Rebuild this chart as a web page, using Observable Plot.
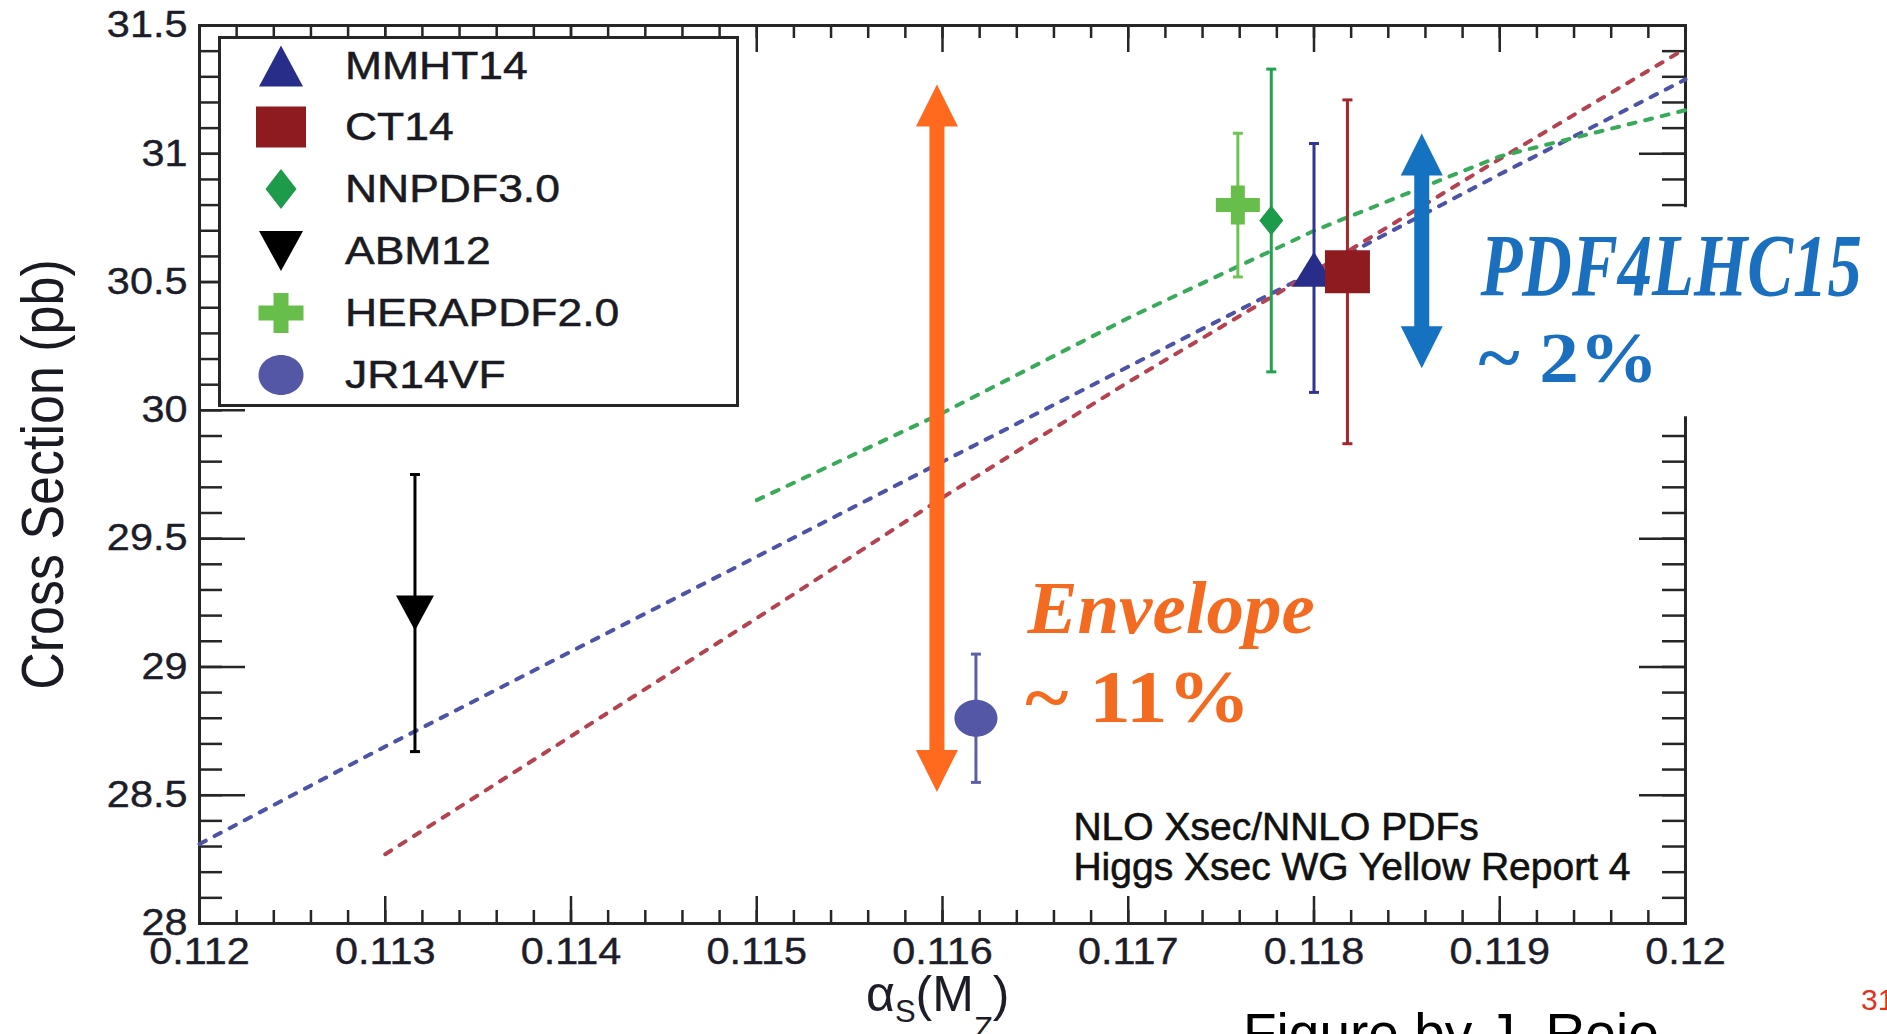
<!DOCTYPE html>
<html>
<head>
<meta charset="utf-8">
<script src="https://cdn.jsdelivr.net/npm/d3@7"></script>
<script src="https://cdn.jsdelivr.net/npm/@observablehq/plot@0.6"></script>
<style>
  html, body { margin: 0; padding: 0; background: #fff; overflow: hidden; }
  #wrap { position: relative; width: 1887px; height: 1034px; overflow: hidden; background: #fff; }
  #wrap > svg { position: absolute; left: 0; top: 0; }
  .legend { position: absolute; left: 218px; top: 36px; width: 521px; height: 371px; box-sizing: border-box;
            border: 3px solid #262626; background: #fff; }
  .legend .sym { position: absolute; width: 60px; height: 50px; }
  .legend .lab { position: absolute; font-family: "Liberation Sans", Arial, sans-serif; font-size: 39px; line-height: 44px;
                 color: #1a1a22; white-space: nowrap; transform: scaleX(1.14); transform-origin: 0 50%;
                 -webkit-text-stroke: 0.5px #1a1a22; }
  .xtitle { position: absolute; left: 866px; top: 969px; font-family: "Liberation Sans", Arial, sans-serif; font-size: 50px;
            line-height: 50px; color: #1d1d28; white-space: nowrap; }
  .xtitle sub { font-size: 0.62em; line-height: 0; }
  .credit { position: absolute; left: 1243px; top: 1006px; font-family: "Liberation Sans", Arial, sans-serif; font-size: 55px;
            line-height: 55px; color: #000; white-space: nowrap; }
  .slideno { position: absolute; left: 1861px; top: 985px; font-family: "Liberation Sans", Arial, sans-serif; font-size: 30px;
             line-height: 30px; color: #e2311d; white-space: nowrap; }
</style>
</head>
<body>
<div id="wrap"></div>
<script>
// ---------------- data ----------------
const pdfSets  = ["MMHT14", "CT14", "NNPDF3.0", "ABM12", "HERAPDF2.0", "JR14VF"];
const alphaS   = [0.11800, 0.11818, 0.11777, 0.11316, 0.11759, 0.11618];
const xsec     = [30.55, 30.54, 30.74, 29.21, 30.80, 28.80];
const xsecLow  = [30.07, 29.87, 30.15, 28.67, 30.52, 28.55];
const xsecHigh = [31.04, 31.21, 31.33, 29.75, 31.08, 29.05];

// dashed alpha_s dependence curves
const mmhtCurveAlpha  = [0.112, 0.113, 0.114, 0.115, 0.116, 0.117, 0.118, 0.119, 0.120];
const mmhtCurveXsec   = [28.31, 28.69, 29.06, 29.43, 29.80, 30.17, 30.54, 30.92, 31.29];
const ct14CurveAlpha  = [0.113, 0.114, 0.115, 0.116, 0.117, 0.118, 0.119, 0.120];
const ct14CurveXsec   = [28.27, 28.73, 29.19, 29.66, 30.11, 30.54, 30.98, 31.41];
const nnpdfCurveAlpha = [0.115, 0.116, 0.117, 0.118, 0.119, 0.120];
const nnpdfCurveXsec  = [29.65, 29.99, 30.36, 30.70, 30.99, 31.17];

// axes
const xTickValues = [0.112, 0.113, 0.114, 0.115, 0.116, 0.117, 0.118, 0.119, 0.120];
const xTickLabels = ["0.112", "0.113", "0.114", "0.115", "0.116", "0.117", "0.118", "0.119", "0.12"];
const yTickValues = [28, 28.5, 29, 29.5, 30, 30.5, 31, 31.5];
const yTickLabels = ["28", "28.5", "29", "29.5", "30", "30.5", "31", "31.5"];
const yTitle = "Cross Section (pb)";

// annotation arrows (alpha_s position, lower and upper ends)
const arrowNames = ["Envelope", "PDF4LHC15"];
const arrowAlpha = [0.11597, 0.11858];
const arrowLow   = [28.513, 30.164];
const arrowHigh  = [31.27, 31.079];

// annotation texts and their anchors (alpha_s, cross section)
const annoText  = ["Envelope", "~ 11%", "PDF4LHC15", "~ 2%", "NLO Xsec/NNLO PDFs", "Higgs Xsec WG Yellow Report 4"];
const annoAlpha = [0.116457, 0.116446, 0.118896, 0.118885, 0.116705, 0.116705];
const annoXsec  = [29.131, 28.785, 30.448, 30.109, 28.325, 28.169];
const annoBox   = {x1: 0.11884, x2: 0.12035, y1: 29.975, y2: 30.79};

// ---------------- symbols ----------------
const triUp = (w, h) => ({draw(c) { c.moveTo(0, -h / 2); c.lineTo(w / 2, h / 2); c.lineTo(-w / 2, h / 2); c.closePath(); }});
const triDown = (w, h) => ({draw(c) { c.moveTo(0, h / 2); c.lineTo(w / 2, -h / 2); c.lineTo(-w / 2, -h / 2); c.closePath(); }});
const box = (w, h) => ({draw(c) { c.moveTo(-w / 2, -h / 2); c.lineTo(w / 2, -h / 2); c.lineTo(w / 2, h / 2); c.lineTo(-w / 2, h / 2); c.closePath(); }});
const diamond = (w, h) => ({draw(c) { c.moveTo(0, -h / 2); c.lineTo(w / 2, 0); c.lineTo(0, h / 2); c.lineTo(-w / 2, 0); c.closePath(); }});
const plus = (w, h, t) => ({draw(c) {
  const a = w / 2, b = h / 2, s = t / 2;
  c.moveTo(-s, -b); c.lineTo(s, -b); c.lineTo(s, -s); c.lineTo(a, -s); c.lineTo(a, s); c.lineTo(s, s);
  c.lineTo(s, b); c.lineTo(-s, b); c.lineTo(-s, s); c.lineTo(-a, s); c.lineTo(-a, -s); c.lineTo(-s, -s); c.closePath();
}});
const oval = (w, h) => ({draw(c) {
  const a = w / 2, b = h / 2, k = 0.5523;
  c.moveTo(a, 0);
  c.bezierCurveTo(a, b * k, a * k, b, 0, b);
  c.bezierCurveTo(-a * k, b, -a, b * k, -a, 0);
  c.bezierCurveTo(-a, -b * k, -a * k, -b, 0, -b);
  c.bezierCurveTo(a * k, -b, a, -b * k, a, 0);
  c.closePath();
}});
const capSym = (w) => ({draw(c) { c.moveTo(-w / 2, 0); c.lineTo(w / 2, 0); }});
const headUp = (w, l) => ({draw(c) { c.moveTo(0, 0); c.lineTo(w / 2, l); c.lineTo(-w / 2, l); c.closePath(); }});
const headDown = (w, l) => ({draw(c) { c.moveTo(0, 0); c.lineTo(w / 2, -l); c.lineTo(-w / 2, -l); c.closePath(); }});

const setStyle = {
  "MMHT14":     {fill: "#272d88", bar: "#2f3591", sym: triUp(43, 35),      leg: triUp(44, 41)},
  "CT14":       {fill: "#8d1b20", bar: "#a3272d", sym: box(45, 43),        leg: box(50, 41)},
  "NNPDF3.0":   {fill: "#1e9a4b", bar: "#24a051", sym: diamond(24, 30),    leg: diamond(31, 40)},
  "ABM12":      {fill: "#000000", bar: "#000000", sym: triDown(38, 35),    leg: triDown(44, 40)},
  "HERAPDF2.0": {fill: "#68be4a", bar: "#72c355", sym: plus(44, 39, 14),   leg: plus(45, 40, 15)},
  "JR14VF":     {fill: "#5457a5", bar: "#5b5ea9", sym: oval(43, 37),       leg: oval(45, 40)}
};
const arrowColor = {"Envelope": "#ff6a1f", "PDF4LHC15": "#1472c0"};

// ---------------- build tables ----------------
const sets = pdfSets.map((name, i) => ({name, alpha: alphaS[i], xsec: xsec[i], lo: xsecLow[i], hi: xsecHigh[i]}));
const curve = (xs, ys) => xs.map((a, i) => ({alpha: a, xsec: ys[i]}));
const curves = [
  {data: curve(mmhtCurveAlpha, mmhtCurveXsec), color: "#4d53a6"},
  {data: curve(ct14CurveAlpha, ct14CurveXsec), color: "#b4424f"},
  {data: curve(nnpdfCurveAlpha, nnpdfCurveXsec), color: "#38aa59"}
];
const arrows = arrowNames.map((n, i) => ({name: n, alpha: arrowAlpha[i], low: arrowLow[i], high: arrowHigh[i], color: arrowColor[n]}));
const anno = annoText.map((t, i) => ({text: t, alpha: annoAlpha[i], xsec: annoXsec[i]}));

// ---------------- plot ----------------
const width = 1887, height = 1034;
const mL = 199, mR = 202, mT = 25, mB = 111;
const W = width - mL - mR, H = height - mT - mB;
const axisColor = "#262626";
const xMinor = d3.ticks(0.112, 0.12, 40);
const yMinor = d3.ticks(28, 31.5, 35);

const marks = [
  // ROOT style inward ticks on all four sides
  Plot.ruleX(xMinor, {x: d => d, insetTop: H - 13, stroke: axisColor, strokeWidth: 2.5}),
  Plot.ruleX(xTickValues, {x: d => d, insetTop: H - 27, stroke: axisColor, strokeWidth: 2.5}),
  Plot.ruleX(xMinor, {x: d => d, insetBottom: H - 13, stroke: axisColor, strokeWidth: 2.5}),
  Plot.ruleX(xTickValues, {x: d => d, insetBottom: H - 27, stroke: axisColor, strokeWidth: 2.5}),
  Plot.ruleY(yMinor, {y: d => d, insetRight: W - 23, stroke: axisColor, strokeWidth: 2.5}),
  Plot.ruleY(yTickValues, {y: d => d, insetRight: W - 46, stroke: axisColor, strokeWidth: 2.5}),
  Plot.ruleY(yMinor, {y: d => d, insetLeft: W - 23, stroke: axisColor, strokeWidth: 2.5}),
  Plot.ruleY(yTickValues, {y: d => d, insetLeft: W - 46, stroke: axisColor, strokeWidth: 2.5}),
  Plot.frame({stroke: axisColor, strokeWidth: 3}),
  // tick labels
  Plot.text(xTickValues, {x: d => d, text: (d, i) => xTickLabels[i], frameAnchor: "bottom", lineAnchor: "top", dy: 14,
    fontSize: 37, fill: "#1d1d2a", stroke: "#1d1d2a", strokeWidth: 0.4}),
  Plot.text(yTickValues, {y: d => d, text: (d, i) => yTickLabels[i], frameAnchor: "left", textAnchor: "end", dx: -12,
    fontSize: 37, fill: "#1d1d2a", stroke: "#1d1d2a", strokeWidth: 0.4}),
  Plot.text([yTitle], {text: d => d, frameAnchor: "left", rotate: -90, textAnchor: "middle", lineAnchor: "bottom", dx: -137,
    fontSize: 52, fill: "#1a1a22"}),
  // dashed curves
  ...curves.map(c => Plot.line(c.data, {x: "alpha", y: "xsec", stroke: c.color, strokeWidth: 4, strokeDasharray: "7,10"})),
  // error bars
  Plot.ruleX(sets, {x: "alpha", y1: "hi", y2: "lo", stroke: d => setStyle[d.name].bar, strokeWidth: 3}),
  Plot.dot(sets, {x: "alpha", y: "lo", symbol: capSym(10), r: 1, fill: "none", stroke: d => setStyle[d.name].bar, strokeWidth: 3}),
  Plot.dot(sets, {x: "alpha", y: "hi", symbol: capSym(10), r: 1, fill: "none", stroke: d => setStyle[d.name].bar, strokeWidth: 3}),
  // markers
  ...sets.map(s => Plot.dot([s], {x: "alpha", y: "xsec", symbol: setStyle[s.name].sym, r: 1, fill: setStyle[s.name].fill})),
  // double arrows
  Plot.ruleX(arrows, {x: "alpha", y1: "high", y2: "low", stroke: "color", strokeWidth: 15, insetTop: 30, insetBottom: 30}),
  Plot.dot(arrows, {x: "alpha", y: "high", symbol: headUp(42, 42), r: 1, fill: "color"}),
  Plot.dot(arrows, {x: "alpha", y: "low", symbol: headDown(42, 42), r: 1, fill: "color"}),
  // white text box for PDF4LHC15 label
  Plot.rect([annoBox], {x1: "x1", x2: "x2", y1: "y1", y2: "y2", fill: "white"}),
  // annotations
  Plot.text([anno[0]], {x: "alpha", y: "xsec", text: "text", textAnchor: "start", lineAnchor: "bottom",
    fontFamily: "Liberation Serif, serif", fontStyle: "italic", fontWeight: "bold", fontSize: 75, fill: "#f36b21"}),
  Plot.text([anno[1]], {x: "alpha", y: "xsec", text: "text", textAnchor: "start", lineAnchor: "bottom",
    fontFamily: "Liberation Serif, serif", fontWeight: "bold", fontSize: 74, fill: "#f36b21"}),
  Plot.text([anno[2]], {x: "alpha", y: "xsec", text: "text", textAnchor: "start", lineAnchor: "bottom",
    fontFamily: "Liberation Serif, serif", fontStyle: "italic", fontWeight: "bold", fontSize: 88, fill: "#1a6fbf"}),
  Plot.text([anno[3]], {x: "alpha", y: "xsec", text: "text", textAnchor: "start", lineAnchor: "bottom",
    fontFamily: "Liberation Serif, serif", fontWeight: "bold", fontSize: 72, fill: "#1a6fbf"}),
  Plot.text(anno.slice(4), {x: "alpha", y: "xsec", text: "text", textAnchor: "start", lineAnchor: "bottom",
    fontFamily: "Liberation Sans, Arial, sans-serif", fontSize: 39, fill: "#111", stroke: "#111", strokeWidth: 0.6})
];

const chart = Plot.plot({
  width, height,
  marginLeft: mL, marginRight: mR, marginTop: mT, marginBottom: mB,
  x: {domain: [0.112, 0.12], axis: null},
  y: {domain: [28, 31.5], axis: null},
  style: {fontFamily: "Liberation Sans, Arial, sans-serif", background: "transparent", overflow: "visible"},
  marks
});

// stretch texts (the original ROOT picture is stretched horizontally)
function stretch(contents, sx, sy) {
  const wanted = new Set(contents);
  chart.querySelectorAll("text").forEach(el => {
    if (!wanted.has(el.textContent)) return;
    const t = el.getAttribute("transform");
    if (t) el.setAttribute("transform", `${t} scale(${sx},${sy})`);
    else {
      const x = +el.getAttribute("x") || 0, y = +el.getAttribute("y") || 0;
      el.setAttribute("transform", `translate(${x},${y}) scale(${sx},${sy}) translate(${-x},${-y})`);
    }
  });
}
stretch(xTickLabels, 1.12, 1);
stretch(yTickLabels, 1.12, 1);
stretch([yTitle], 1, 1.14);
stretch([annoText[2]], 0.78, 1);
stretch([annoText[3]], 1.1, 1);
stretch([annoText[1]], 1.12, 1);

const wrap = document.getElementById("wrap");
wrap.appendChild(chart);

// legend
const legend = d3.select(wrap).append("div").attr("class", "legend");
const rowY = [27, 88, 150, 212, 274, 336];
pdfSets.forEach((name, i) => {
  const p = d3.path();
  setStyle[name].leg.draw(p);
  const s = legend.append("svg").attr("class", "sym").attr("width", 60).attr("height", 50)
    .style("left", "30px").style("top", (rowY[i] - 25) + "px");
  s.append("path").attr("transform", "translate(30,25)").attr("d", p.toString()).attr("fill", setStyle[name].fill);
  legend.append("div").attr("class", "lab").style("left", "124px").style("top", (rowY[i] - 22) + "px").text(name);
});

// x-axis title, credit and slide number
d3.select(wrap).append("div").attr("class", "xtitle")
  .html('α<sub style="vertical-align:-11px">S</sub>(M<sub style="vertical-align:-28px">Z</sub>)');
d3.select(wrap).append("div").attr("class", "credit").text("Figure by J. Rojo");
d3.select(wrap).append("div").attr("class", "slideno").text("31");
</script>
</body>
</html>
